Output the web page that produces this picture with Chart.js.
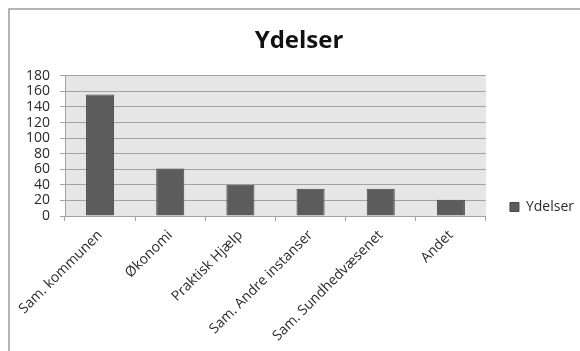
<!DOCTYPE html>
<html>
<head>
<meta charset="utf-8">
<script src="https://cdn.jsdelivr.net/npm/chart.js@4/dist/chart.umd.min.js"></script>
<style>
  html, body { margin: 0; padding: 0; background: #fff; }
  canvas { display: block; }
</style>
</head>
<body>
<canvas id="chart" width="580" height="351"></canvas>
<script>
// Data
const chartTitle = 'Ydelser';
const seriesName = 'Ydelser';
const categories = ['Sam. kommunen', 'Økonomi', 'Praktisk Hjælp', 'Sam. Andre instanser', 'Sam. Sundhedvæsenet', 'Andet'];
const ydelser = [156, 61, 40, 35, 35, 21];
const yTicks = [0, 20, 40, 60, 80, 100, 120, 140, 160, 180];

const FONT = "'Open Sans', 'DejaVu Sans', sans-serif";
const GRID = '#a3a3a3';
const TEXT = '#2b2b2b';

// White page, outer frame and the grey plot-area fill; legend sits beside the lower plot
const framePlugin = {
  id: 'frame',
  afterLayout(chart) {
    const lg = chart.legend;
    if (!lg) return;
    const h = 60;
    lg.top = chart.chartArea.bottom - 40;
    lg.bottom = lg.top + h;
    lg.height = h;
  },
  beforeDraw(chart) {
    const { ctx, chartArea: a } = chart;
    ctx.save();
    ctx.fillStyle = '#ffffff';
    ctx.fillRect(0, 0, chart.width, chart.height);
    ctx.strokeStyle = '#9c9c9c';
    ctx.lineWidth = 1.5;
    ctx.strokeRect(9, 9, chart.width + 40, chart.height + 40);
    ctx.fillStyle = '#e6e6e6';
    ctx.fillRect(a.left, a.top, a.right - a.left, a.bottom - a.top);
    ctx.restore();
  }
};

new Chart(document.getElementById('chart'), {
  type: 'bar',
  data: {
    labels: categories,
    datasets: [{
      label: seriesName,
      data: ydelser,
      backgroundColor: '#5c5c5c',
      borderColor: '#474747',
      borderWidth: 1,
      categoryPercentage: 1.0,
      barPercentage: 0.4
    }]
  },
  options: {
    responsive: false,
    devicePixelRatio: 1,
    animation: false,
    layout: { padding: { top: 10, left: 14, right: -4, bottom: 0 } },
    plugins: {
      title: {
        display: true,
        text: chartTitle,
        color: '#111',
        font: { family: FONT, size: 24, weight: 'bold', lineHeight: 1.2 },
        padding: { top: 17, bottom: 20 }
      },
      legend: {
        display: true,
        position: 'right',
        align: 'start',
        fullSize: false,
        labels: {
          color: TEXT,
          font: { family: FONT, size: 14 },
          boxWidth: 9,
          boxHeight: 9,
          padding: 24
        }
      },
      tooltip: { enabled: false }
    },
    scales: {
      x: {
        grid: {
          display: true,
          drawOnChartArea: false,
          drawTicks: true,
          tickLength: 5,
          color: GRID,
          offset: true
        },
        border: { display: true, color: GRID, width: 1 },
        ticks: {
          color: TEXT,
          font: { family: FONT, size: 14 },
          autoSkip: false,
          maxRotation: 45,
          minRotation: 45,
          padding: 6
        },
        afterFit(scale) { scale.height = 135; }
      },
      y: {
        min: 0,
        max: 180,
        afterBuildTicks(scale) { scale.ticks = yTicks.map(v => ({ value: v })); },
        grid: {
          color: GRID,
          lineWidth: 1,
          drawTicks: true,
          tickLength: 5,
          tickColor: GRID
        },
        border: { display: true, color: GRID, width: 1 },
        ticks: {
          color: TEXT,
          font: { family: FONT, size: 14, lineHeight: 1 },
          autoSkip: false,
          padding: 10
        },
        afterFit(scale) { scale.width = 51; }
      }
    }
  },
  plugins: [framePlugin]
});
</script>
</body>
</html>
